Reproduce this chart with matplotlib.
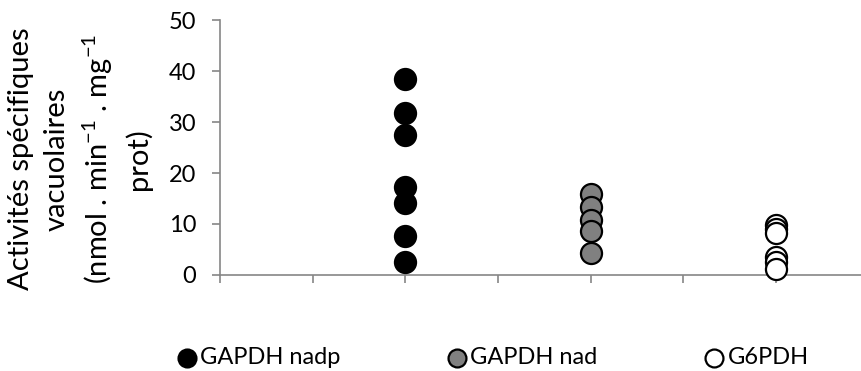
import numpy as np
import matplotlib.pyplot as plt

plt.rcParams['font.family'] = ['Lato', 'DejaVu Sans']
plt.rcParams['mathtext.fontset'] = 'custom'
plt.rcParams['mathtext.rm'] = 'Lato'
plt.rcParams['mathtext.it'] = 'Lato'

# data
series_names = ["GAPDH nadp", "GAPDH nad", "G6PDH"]
x_pos = [2, 4, 6]
gapdh_nadp = [38.4, 31.7, 27.5, 17.2, 14.2, 7.6, 2.5]
gapdh_nad = [15.9, 13.3, 10.8, 8.6, 4.3]
g6pdh = [9.8, 9.0, 8.2, 3.5, 2.6, 1.2]

face_colors = ["black", "#808080", "white"]

fig = plt.figure(figsize=(8.62, 3.71), dpi=100)
ax = fig.add_axes([0.2552, 0.2588, 0.7448, 0.6872])

for name, x, vals, fc in zip(series_names, x_pos, [gapdh_nadp, gapdh_nad, g6pdh], face_colors):
    ax.scatter([x] * len(vals), vals, s=230, facecolor=fc, edgecolor="black",
               linewidth=1.6, label=name, zorder=3, clip_on=False)

ax.set_xlim(0, 6.93)
ax.set_ylim(0, 50)
ax.set_xticks(range(0, 7))
ax.set_xticklabels([])
ax.set_yticks(range(0, 51, 10))

gray = "#868686"
for s in ["top", "right"]:
    ax.spines[s].set_visible(False)
for s in ["left", "bottom"]:
    ax.spines[s].set_color(gray)
    ax.spines[s].set_linewidth(1.2)
ax.tick_params(axis="both", colors=gray, length=6, width=1.2, direction="out")
ax.tick_params(axis="y", labelcolor="black", labelsize=17, pad=11)

fig.text(0.093, 0.571,
         "Activités spécifiques\nvacuolaires\n(nmol . min$^{-1}$ . mg$^{-1}$\nprot)",
         rotation=90, ha="center", va="center", multialignment="center",
         fontsize=21, linespacing=1.42)

ax.legend(loc="center", bbox_to_anchor=(0.572, 0.036), bbox_transform=fig.transFigure,
          ncol=3, frameon=False, fontsize=17, handletextpad=0.15, handlelength=0.8,
          columnspacing=4.55, markerscale=0.85, borderpad=0, borderaxespad=0)

fig.savefig("out.png", dpi=100)
